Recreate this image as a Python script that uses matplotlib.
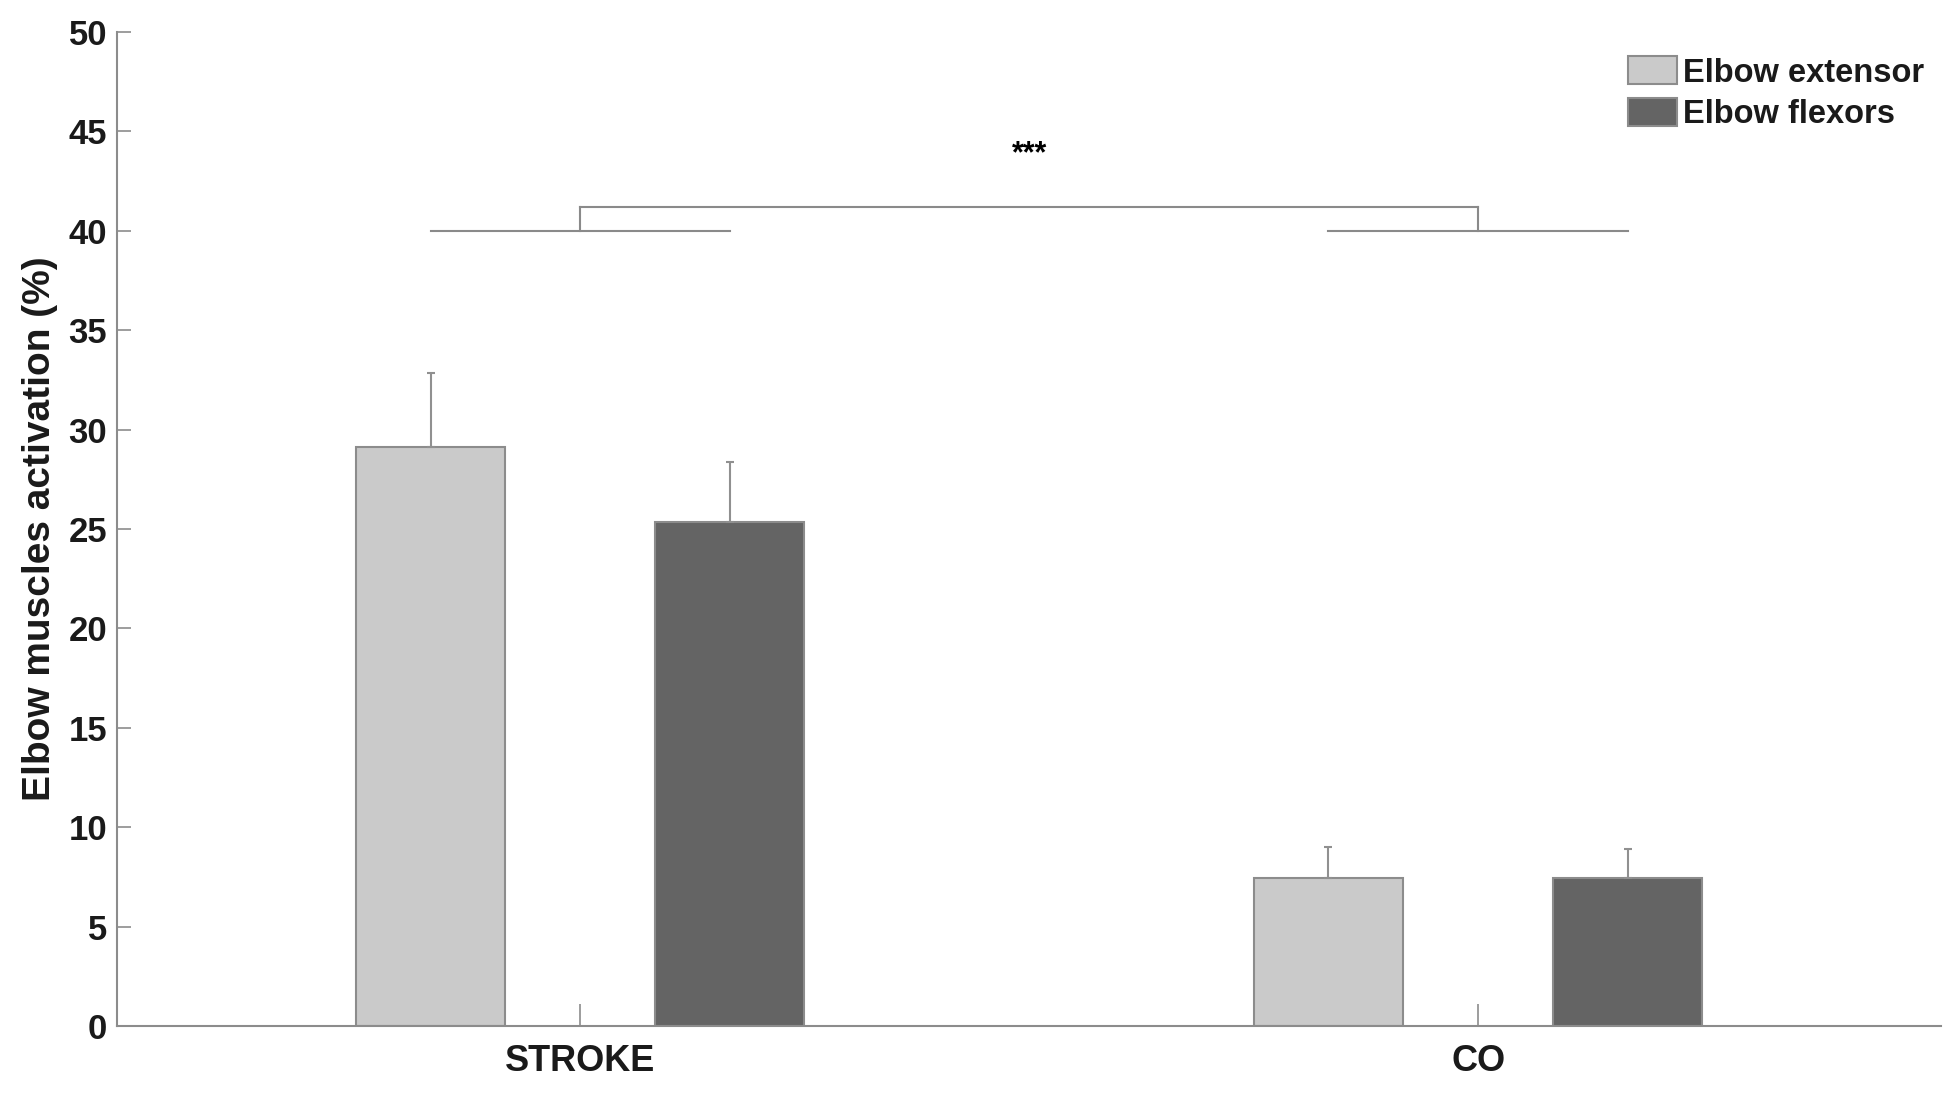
import matplotlib
matplotlib.use("Agg")
import matplotlib.pyplot as plt
import numpy as np

plt.rcParams['font.family'] = ['Liberation Sans', 'DejaVu Sans']
plt.rcParams['font.weight'] = 'bold'

groups = ['STROKE', 'CO']
series = ['Elbow extensor', 'Elbow flexors']
extensor_mean = [29.1, 7.45]
extensor_err = [3.75, 1.55]
flexor_mean = [25.35, 7.45]
flexor_err = [3.0, 1.45]
yticks = [0, 5, 10, 15, 20, 25, 30, 35, 40, 45, 50]

light = '#cacaca'
dark = '#646464'
edge = '#8c8c8c'

fig = plt.figure(figsize=(19.44, 10.95), dpi=100)
ax = fig.add_axes([0.0602, 0.063, 0.938, 0.9078])

x = np.arange(1, len(groups) + 1)
off = 0.1667
w = 0.166
ax.bar(x - off, extensor_mean, width=w, color=light, edgecolor=edge, linewidth=1.5, label=series[0], zorder=2)
ax.bar(x + off, flexor_mean, width=w, color=dark, edgecolor=edge, linewidth=1.5, label=series[1], zorder=2)
for xs, m, e in [(x - off, extensor_mean, extensor_err), (x + off, flexor_mean, flexor_err)]:
    ax.errorbar(xs, m, yerr=[np.zeros(len(m)), e], fmt='none', ecolor='#909090',
                elinewidth=1.5, capsize=3, capthick=1.5, zorder=3)

# significance bracket
lc = '#8a8a8a'
for i in range(len(groups)):
    ax.plot([x[i] - off, x[i] + off], [40, 40], color=lc, lw=1.5, zorder=3)
    ax.plot([x[i], x[i]], [40, 41.2], color=lc, lw=1.5, zorder=3)
ax.plot([x[0], x[1]], [41.2, 41.2], color=lc, lw=1.5, zorder=3)
ax.text((x[0] + x[1]) / 2, 43.85, '***', ha='center', va='center', fontsize=22, fontweight='bold')

ax.set_xlim(0.484, 2.515)
ax.set_ylim(0, 50)
ax.set_yticks(yticks)
ax.set_xticks(x)
ax.set_xticklabels(groups)
ax.tick_params(axis='both', direction='in', color='#8c8c8c', width=1.2)
ax.tick_params(axis='y', length=10, pad=7, labelsize=25)
ax.tick_params(axis='x', length=16, pad=13, labelsize=26)
for lab in ax.get_xticklabels() + ax.get_yticklabels():
    lab.set_fontweight('bold')
    lab.set_color('#1a1a1a')
ax.spines['top'].set_visible(False)
ax.spines['right'].set_visible(False)
for s in ['left', 'bottom']:
    ax.spines[s].set_color('#8c8c8c')
    ax.spines[s].set_linewidth(1.5)
ax.set_ylabel('Elbow muscles activation (%)', fontsize=28, fontweight='bold', labelpad=8, color='#1a1a1a')

leg = ax.legend(loc='upper right', bbox_to_anchor=(1.0, 0.992), frameon=False, fontsize=23.5,
                handlelength=1.5, handleheight=0.95, handletextpad=0.18, labelspacing=0.28,
                borderaxespad=0.1)
for t in leg.get_texts():
    t.set_fontweight('bold')
    t.set_color('#1a1a1a')

fig.savefig('out.png', dpi=100, facecolor='white')
